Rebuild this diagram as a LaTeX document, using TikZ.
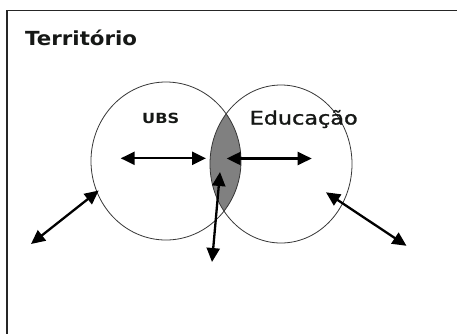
\documentclass[tikz,border=0pt]{standalone}
\usepackage{fontspec}
\usetikzlibrary{arrows.meta,shapes.geometric}
\newfontfamily\dejavu{DejaVu Sans}
\newfontfamily\dejavumed[FakeBold=1.3]{DejaVu Sans}
\definecolor{lensgray}{RGB}{128,128,128}
\definecolor{ringgray}{RGB}{55,55,55}
\definecolor{txtdark}{RGB}{22,24,22}
\begin{document}
\begin{tikzpicture}[x=1pt,y=-1pt,
  ring/.style={ellipse,draw=ringgray,line width=0.8pt,inner sep=0pt},
  dbl/.style={line width=2.3pt,{Triangle[length=14pt,width=13pt]}-{Triangle[length=14pt,width=13pt]}},
  lbl/.style={anchor=base west,inner sep=0pt,text=txtdark}]
\useasboundingbox (0,0) rectangle (457,333);
\fill[white] (0,0) rectangle (457,333);
% frame (cropped at right and bottom)
\draw[line width=1.5pt,draw=black!85] (7,10.5) rectangle (480,350);
% lens
\begin{scope}
  \clip (166,161) ellipse [x radius=75, y radius=79];
  \fill[lensgray] (281,164) ellipse [x radius=71, y radius=79];
\end{scope}
% circles
\node[ring,minimum width=150pt,minimum height=158pt] (ubs) at (166,161) {};
\node[ring,minimum width=142pt,minimum height=158pt] (edu) at (281,164) {};
% labels
\node[lbl] (terr) at (25,45) {\scalebox{1.1}[1]{\dejavu\bfseries\fontsize{19.4pt}{22pt}\selectfont Território}};
\node[lbl] (ubstxt) at (142,123) {\scalebox{1.15}[1]{\dejavu\bfseries\fontsize{14pt}{15pt}\selectfont UBS}};
\node[lbl] (edutxt) at (249.5,124.5) {\scalebox{1.2}[1]{\dejavumed\fontsize{18.6pt}{21pt}\selectfont Educação}};
% arrow ends
\coordinate (a1) at (120.7,158.3);
\coordinate (a2) at (206,158.3);
\coordinate (b1) at (226.7,158.5);
\coordinate (b2) at (311.7,158.5);
\coordinate (c1) at (220,172);
\coordinate (c2) at (212,262);
\coordinate (d1) at (98.7,190.5);
\coordinate (d2) at (31,244);
\coordinate (e1) at (326,192.3);
\coordinate (e2) at (406.5,245.8);
\draw[dbl] (a1) -- (a2);
\draw[dbl] (b1) -- (b2);
\draw[dbl] (c1) -- (c2);
\draw[dbl] (d1) -- (d2);
\draw[dbl] (e1) -- (e2);
\end{tikzpicture}
\end{document}
